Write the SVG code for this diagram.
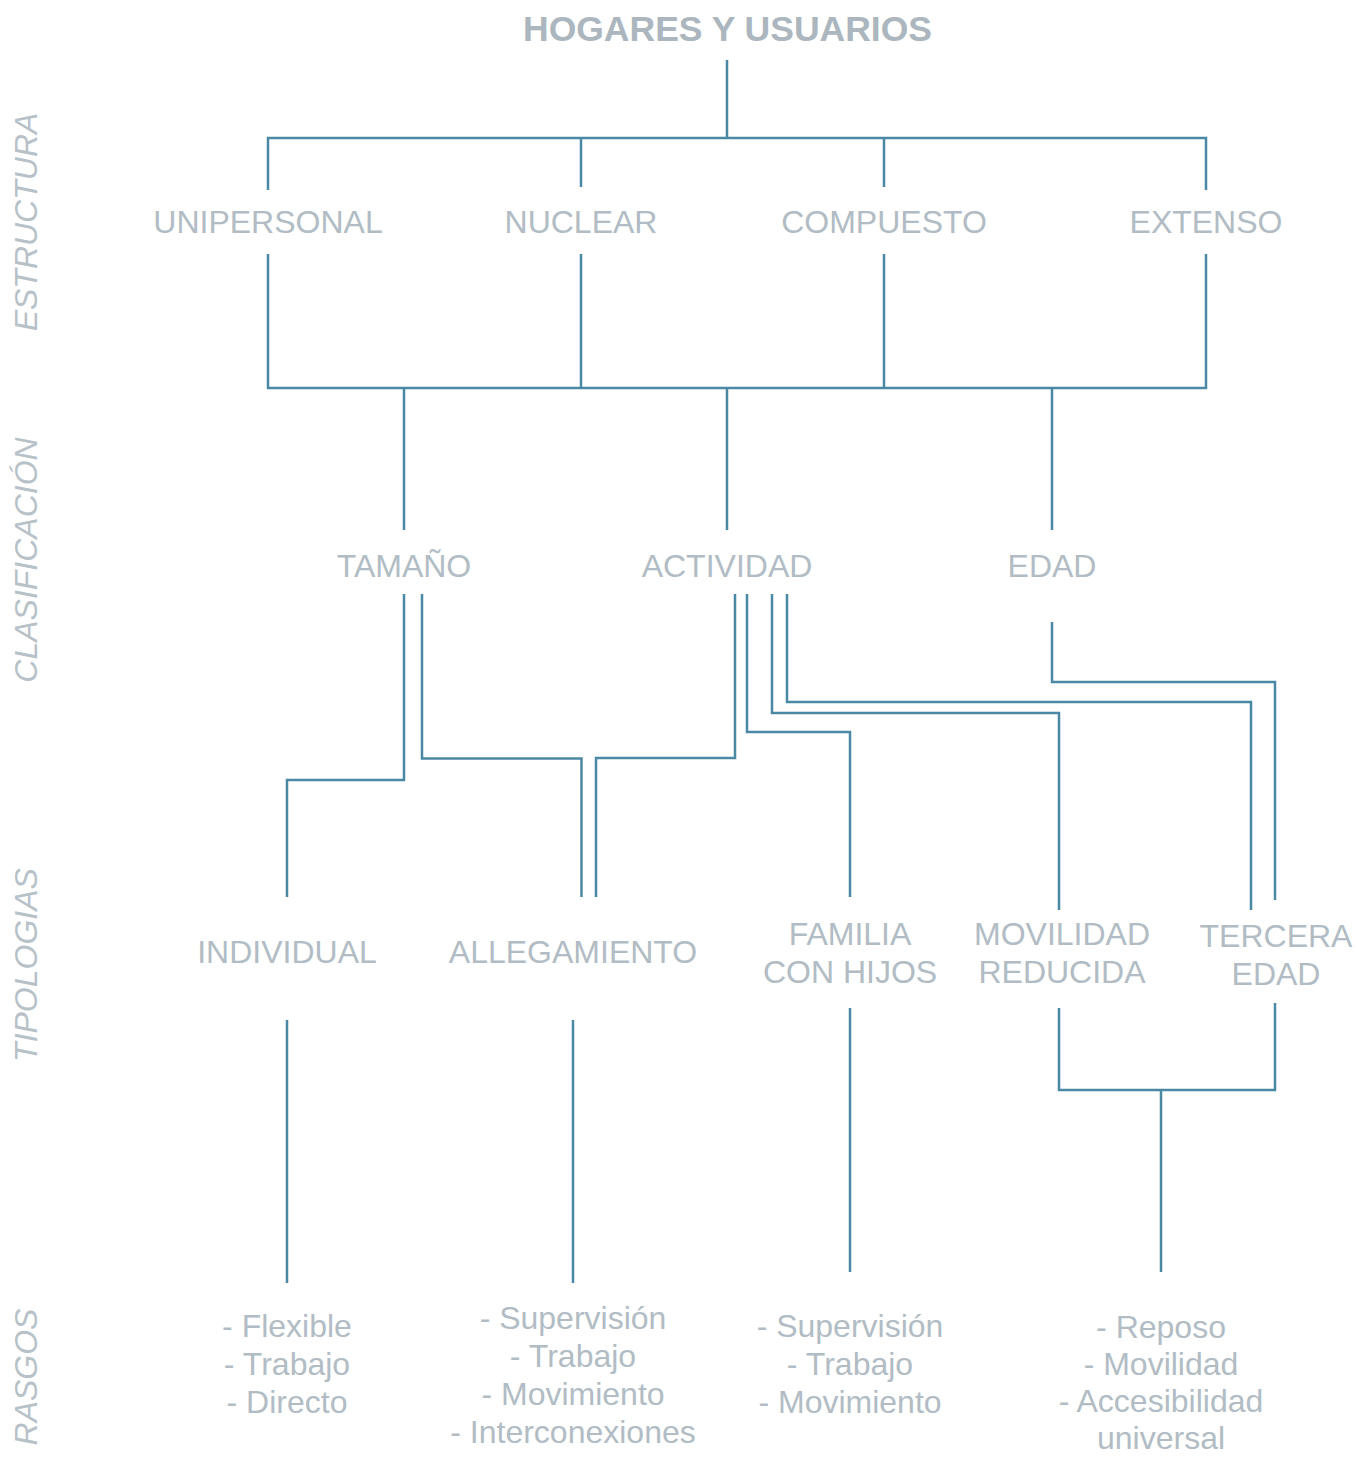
<svg xmlns="http://www.w3.org/2000/svg" width="1357" height="1457" viewBox="0 0 1357 1457">
<style>
.t{font-family:"Liberation Sans",Arial,sans-serif;font-size:32px;fill:#b1bcc4;text-anchor:middle}
.title{font-family:"Liberation Sans",Arial,sans-serif;font-size:35.5px;font-weight:bold;fill:#abb6be;text-anchor:middle}
.side{font-family:"Liberation Sans",Arial,sans-serif;font-size:32px;font-style:italic;fill:#b7c1c8;text-anchor:middle}
.c{fill:none;stroke:#4b88a4;stroke-width:2.5}
</style>
<rect width="1357" height="1457" fill="#ffffff"/>
<g id="side-labels">
<text class="side" transform="translate(37,222) rotate(-90)">ESTRUCTURA</text>
<text class="side" transform="translate(37,560) rotate(-90)">CLASIFICACIÓN</text>
<text class="side" transform="translate(37,965) rotate(-90)">TIPOLOGIAS</text>
<text class="side" transform="translate(37,1377) rotate(-90)">RASGOS</text>
</g>
<g id="connectors">
<path class="c" d="M727,60 V138 M268,190 V138 H1206 V190 M581,138 V187 M884,138 V187"/>
<path class="c" d="M268,254 V388 H1206 V254 M581,254 V388 M884,254 V388"/>
<path class="c" d="M404,388 V530 M727,388 V530 M1052,388 V530"/>
<path class="c" d="M404,594 V780 H287 V897"/>
<path class="c" d="M422,594 V758.5 H581.5 V897"/>
<path class="c" d="M735,594 V758 H596 V897"/>
<path class="c" d="M747,594 V732 H850 V897"/>
<path class="c" d="M772,594 V713 H1059 V910"/>
<path class="c" d="M787,594 V702 H1251 V910"/>
<path class="c" d="M1052,622 V682 H1275 V900"/>
<path class="c" d="M287,1020 V1283 M573,1020 V1283 M850,1008 V1272"/>
<path class="c" d="M1059,1008 V1090 H1275 V1003 M1161,1090 V1272"/>
</g>
<g id="n-title"><text class="title" x="727.5" y="40.5">HOGARES Y USUARIOS</text></g>
<g id="n-unipersonal"><text class="t" x="268" y="233">UNIPERSONAL</text></g>
<g id="n-nuclear"><text class="t" x="581" y="233">NUCLEAR</text></g>
<g id="n-compuesto"><text class="t" x="884" y="233">COMPUESTO</text></g>
<g id="n-extenso"><text class="t" x="1206" y="233">EXTENSO</text></g>
<g id="n-tamano"><text class="t" x="404" y="577">TAMAÑO</text></g>
<g id="n-actividad"><text class="t" x="727" y="577">ACTIVIDAD</text></g>
<g id="n-edad"><text class="t" x="1052" y="577">EDAD</text></g>
<g id="n-individual"><text class="t" x="287" y="963">INDIVIDUAL</text></g>
<g id="n-allegamiento"><text class="t" x="573" y="963">ALLEGAMIENTO</text></g>
<g id="n-familia"><text class="t" x="850" y="945">FAMILIA</text><text class="t" x="850" y="983">CON HIJOS</text></g>
<g id="n-movilidad"><text class="t" x="1062" y="945">MOVILIDAD</text><text class="t" x="1062" y="983">REDUCIDA</text></g>
<g id="n-tercera"><text class="t" x="1276" y="947">TERCERA</text><text class="t" x="1276" y="985">EDAD</text></g>
<g id="n-rasgos-individual"><text class="t" x="287" y="1337">- Flexible</text><text class="t" x="287" y="1375">- Trabajo</text><text class="t" x="287" y="1413">- Directo</text></g>
<g id="n-rasgos-allegamiento"><text class="t" x="573" y="1329">- Supervisión</text><text class="t" x="573" y="1367">- Trabajo</text><text class="t" x="573" y="1405">- Movimiento</text><text class="t" x="573" y="1443">- Interconexiones</text></g>
<g id="n-rasgos-familia"><text class="t" x="850" y="1337">- Supervisión</text><text class="t" x="850" y="1375">- Trabajo</text><text class="t" x="850" y="1413">- Movimiento</text></g>
<g id="n-rasgos-movilidad"><text class="t" x="1161" y="1338">- Reposo</text><text class="t" x="1161" y="1375">- Movilidad</text><text class="t" x="1161" y="1412">- Accesibilidad</text><text class="t" x="1161" y="1449">universal</text></g>
</svg>
